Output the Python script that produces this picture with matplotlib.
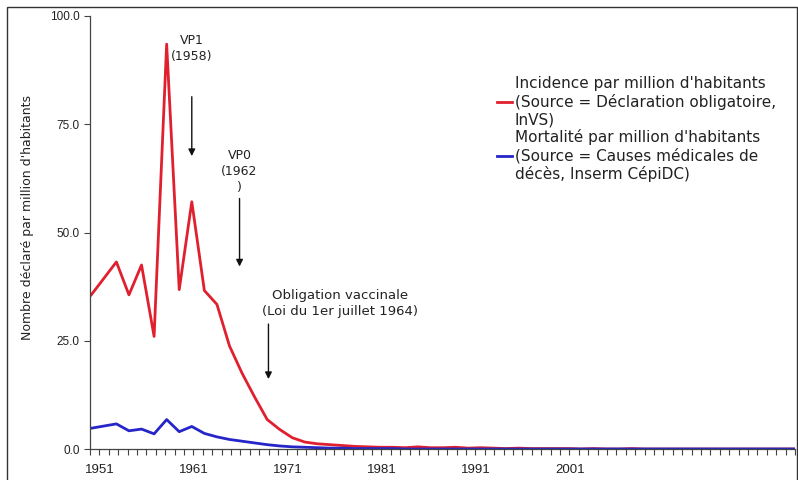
import numpy as np
import matplotlib
matplotlib.use("Agg")
import matplotlib.pyplot as plt
import matplotlib.transforms as mtransforms
from matplotlib.patches import Rectangle

plt.rcParams['font.family'] = ['Liberation Sans', 'DejaVu Sans']

# Data: polio in France, 1951-2007
years = list(range(1951, 2008))

incidence = [35.6, 39.4, 43.2, 35.6, 42.5, 26.0, 93.5, 36.8, 57.1, 36.6,
             33.4, 23.8, 17.5, 12.0, 6.8, 4.5, 2.6, 1.6, 1.2, 1.0,
             0.8, 0.6, 0.5, 0.4, 0.4, 0.3, 0.5, 0.3, 0.3, 0.4,
             0.2, 0.3, 0.2, 0.1, 0.2, 0.1, 0.1, 0.1, 0.1, 0.0,
             0.1, 0.0, 0.0, 0.1, 0.0, 0.0, 0.0, 0.0, 0.0, 0.0,
             0.0, 0.0, 0.0, 0.0, 0.0, 0.0, 0.0]

mortalite = [4.8, 5.3, 5.8, 4.2, 4.6, 3.5, 6.8, 4.0, 5.2, 3.6,
             2.8, 2.2, 1.8, 1.4, 1.0, 0.7, 0.5, 0.4, 0.3, 0.2,
             0.2, 0.1, 0.1, 0.1, 0.1, 0.0, 0.0, 0.0, 0.0, 0.0,
             0.0, 0.0, 0.0, 0.0, 0.0, 0.0, 0.0, 0.0, 0.0, 0.0,
             0.0, 0.0, 0.0, 0.0, 0.0, 0.0, 0.0, 0.0, 0.0, 0.0,
             0.0, 0.0, 0.0, 0.0, 0.0, 0.0, 0.0]

x_labels = ['1951', '1961', '1971', '1981', '1991', '2001']
y_ticks = [0, 25, 50, 75, 100]

label_inc = ("Incidence par million d'habitants\n"
             "(Source = Déclaration obligatoire,\nInVS)")
label_mort = ("Mortalité par million d'habitants\n"
              "(Source = Causes médicales de\ndécès, Inserm CépiDC)")

text_col = '#222222'
wide_font = ['DejaVu Sans']

fig = plt.figure(figsize=(7.98, 4.80), dpi=100)
ax = fig.add_axes([90 / 798, 1 - 449 / 480, 705 / 798, 433 / 480])

ax.plot(years, incidence, color='#e0202e', lw=2.0, label=label_inc)
ax.plot(years, mortalite, color='#2626c8', lw=2.0, label=label_mort)

ax.set_xlim(years[0] - 0.1, years[-1])
ax.set_ylim(0, 100)

# category-style axis: 75 tick intervals, label every 10th tick
ticks = np.linspace(years[0] - 0.1, years[-1], 76)
ax.set_xticks(ticks[::10][:len(x_labels)])
ax.set_xticklabels(x_labels)
ax.set_xticks(ticks, minor=True)

ax.set_yticks(y_ticks)
ax.set_yticklabels([f"{v:.1f}" for v in y_ticks])

ax.tick_params(axis='both', which='both', direction='out', length=4,
               width=0.8, color='#444444', labelsize=8.5, labelcolor=text_col)
ax.tick_params(axis='x', which='major', pad=7, labelsize=9.5)
for s in ['top', 'right']:
    ax.spines[s].set_visible(False)
for s in ['left', 'bottom']:
    ax.spines[s].set_color('#444444')
    ax.spines[s].set_linewidth(0.9)

ax.set_ylabel("Nombre déclaré par million d'habitants", fontsize=9,
              color=text_col, family=wide_font)
ax.yaxis.set_label_coords(-56 / 705, 0.535)

# annotations
arrow = dict(arrowstyle='-|>', color='#111111', lw=1.0, mutation_scale=10)
ax.annotate('', xy=(1959.0, 67.0), xytext=(1959.0, 82.0), arrowprops=arrow)
ax.text(1959.0, 92.5, "VP1\n(1958)", ha='center', va='center',
        fontsize=9, color=text_col, linespacing=1.3, family=wide_font)

ax.annotate('', xy=(1962.8, 41.5), xytext=(1962.8, 58.5), arrowprops=arrow)
ax.text(1962.8, 64.0, "VP0\n(1962\n)", ha='center', va='center',
        fontsize=9, color=text_col, linespacing=1.3, family=wide_font)

ax.annotate('', xy=(1965.1, 15.5), xytext=(1965.1, 29.5), arrowprops=arrow)
ax.text(1970.8, 33.5, "Obligation vaccinale\n(Loi du 1er juillet 1964)",
        ha='center', va='center', fontsize=9.5, color=text_col,
        linespacing=1.3, family=wide_font)

leg = fig.legend(loc='upper left', bbox_to_anchor=(491 / 798, 1 - 70 / 480),
                 frameon=False, prop={'family': wide_font, 'size': 11},
                 handlelength=1.0, handletextpad=0.15, labelspacing=0.15,
                 borderaxespad=0)
for t in leg.get_texts():
    t.set_color(text_col)

# outer frame
fig.patches.append(Rectangle((7 / 798, -0.1), 790 / 798, 1.1 - 7 / 480,
                             transform=fig.transFigure, fill=False,
                             edgecolor='#333333', lw=1.0))

# tick labels sit a little right of their tick, as in the original
fig.canvas.draw()
offset = mtransforms.ScaledTranslation(0.10, 0, fig.dpi_scale_trans)
for tick in ax.xaxis.get_major_ticks():
    tick.label1.set_transform(tick.label1.get_transform() + offset)

fig.savefig('out.png', dpi=100)
